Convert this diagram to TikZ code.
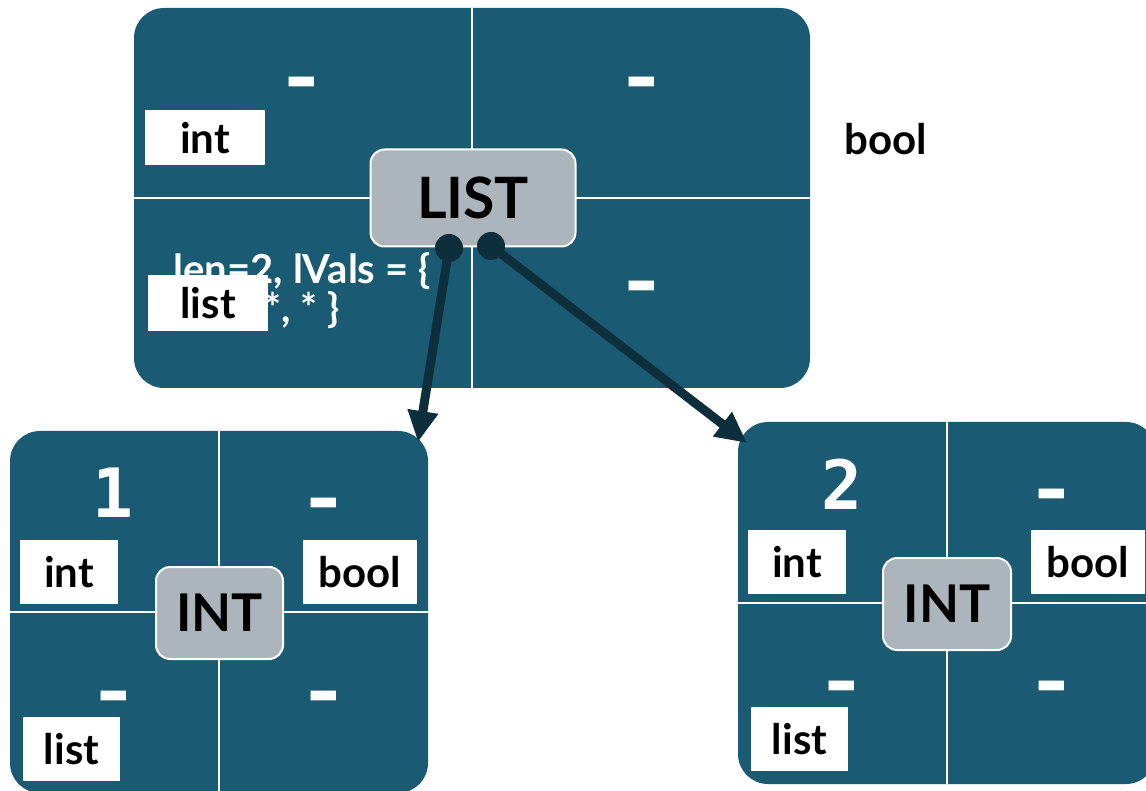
\documentclass[tikz,border=0pt]{standalone}
\usepackage{fontspec}
\setmainfont{Lato}
\newfontfamily\monofam{DejaVu Sans Mono}
\usetikzlibrary{arrows.meta}
\definecolor{boxblue}{HTML}{1A5B73}
\definecolor{chipgray}{HTML}{ABB5BB}
\definecolor{arrowdark}{HTML}{0D2E3B}
\newcommand\dashglyph{\raisebox{\dimexpr 11pt-1.35\fontcharht\font`\-\relax}[11pt][0pt]{\scalebox{1.4}[1.35]{-}}}
\begin{document}
\begin{tikzpicture}[x=1pt,y=-1pt,
  cellbox/.style={draw=none,fill=boxblue,rounded corners=30pt,inner sep=0pt},
  divider/.style={draw=white,line width=2pt},
  chip/.style={draw=white,line width=2pt,fill=chipgray,rounded corners=14pt,inner sep=0pt,font=\bfseries\fontsize{57}{57}\selectfont,text=black},
  tlabel/.style={fill=white,inner sep=0pt,font=\bfseries\fontsize{42}{42}\selectfont,text=black},
  dashmark/.style={inner sep=0pt,anchor=north,text=white,font=\bfseries\fontsize{70}{70}\selectfont},
  digit/.style={inner sep=0pt,text=white,font=\monofam\bfseries\fontsize{68}{68}\selectfont},
  dotend/.style={circle,fill=arrowdark,minimum size=28pt,inner sep=0pt},
  link/.style={draw=arrowdark,line width=9pt,-{Triangle[width=29pt,length=31pt]}}
]
\useasboundingbox (0,0) rectangle (1146,791);
% ---------- top box (LIST) ----------
\node[cellbox,minimum width=676pt,minimum height=380pt] (top) at (472,198) {};
\draw[divider] (top.north) -- (top.south);
\draw[divider] (top.west) -- (top.east);
\node[dashmark] (tdash1) at (302,77) {\dashglyph};
\node[dashmark] (tdash2) at (642,77) {\dashglyph};
\node[dashmark] (tdash3) at (642,281) {\dashglyph};
\node[tlabel,minimum width=120pt,minimum height=55pt] (tint) at (205,138) {int};
\node[inner sep=0pt,anchor=north,align=center,text=white,font=\bfseries\fontsize{40}{39}\selectfont] (tvals) at (302,252) {len=2, lVals = \{\\*, * \}};
\node[tlabel,minimum width=120pt,minimum height=56pt] (tlist) at (208,303) {list};
\node[inner sep=0pt,text=black,font=\bfseries\fontsize{42}{42}\selectfont] (tbool) at (886,139) {bool};
\node[chip,minimum width=205pt,minimum height=97pt] (list) at (473,198) {LIST};
% ---------- bottom-left box (INT 1) ----------
\node[cellbox,minimum width=418pt,minimum height=362pt] (left) at (219,612) {};
\draw[divider] (left.north) -- (left.south);
\draw[divider] (left.west) -- (left.east);
\node[digit] (one) at (113,493) {1};
\node[dashmark] (ldash1) at (323.5,498) {\dashglyph};
\node[dashmark] (ldash2) at (113.5,691) {\dashglyph};
\node[dashmark] (ldash3) at (323.5,691) {\dashglyph};
\node[tlabel,minimum width=98pt,minimum height=64pt] (lint) at (69,572) {int};
\node[tlabel,minimum width=114pt,minimum height=64pt] (lbool) at (360,572) {bool};
\node[tlabel,minimum width=97pt,minimum height=64pt] (llist) at (71.5,749) {list};
\node[chip,minimum width=127pt,minimum height=92pt,font=\bfseries\fontsize{52}{52}\selectfont] (intl) at (219.5,613) {INT};
% ---------- bottom-right box (INT 2) ----------
\node[cellbox,minimum width=418pt,minimum height=362pt] (right) at (947,603) {};
\draw[divider] (right.north) -- (right.south);
\draw[divider] (right.west) -- (right.east);
\node[digit] (two) at (842,484) {2};
\node[dashmark] (rdash1) at (1051.5,489) {\dashglyph};
\node[dashmark] (rdash2) at (841.5,681) {\dashglyph};
\node[dashmark] (rdash3) at (1051.5,681) {\dashglyph};
\node[tlabel,minimum width=98pt,minimum height=64pt] (rint) at (797,562) {int};
\node[tlabel,minimum width=114pt,minimum height=64pt] (rbool) at (1088,562) {bool};
\node[tlabel,minimum width=97pt,minimum height=64pt] (rlist) at (799.5,739) {list};
\node[chip,minimum width=128pt,minimum height=92pt,font=\bfseries\fontsize{52}{52}\selectfont] (intr) at (947,604) {INT};
% ---------- connectors ----------
\node[dotend] (d1) at (449,248) {};
\node[dotend] (d2) at (491,246) {};
\coordinate (t1) at (418,442);
\coordinate (t2) at (747,443);
\draw[link] (d1.center) -- (t1);
\draw[link] (d2.center) -- (t2);
\end{tikzpicture}
\end{document}
